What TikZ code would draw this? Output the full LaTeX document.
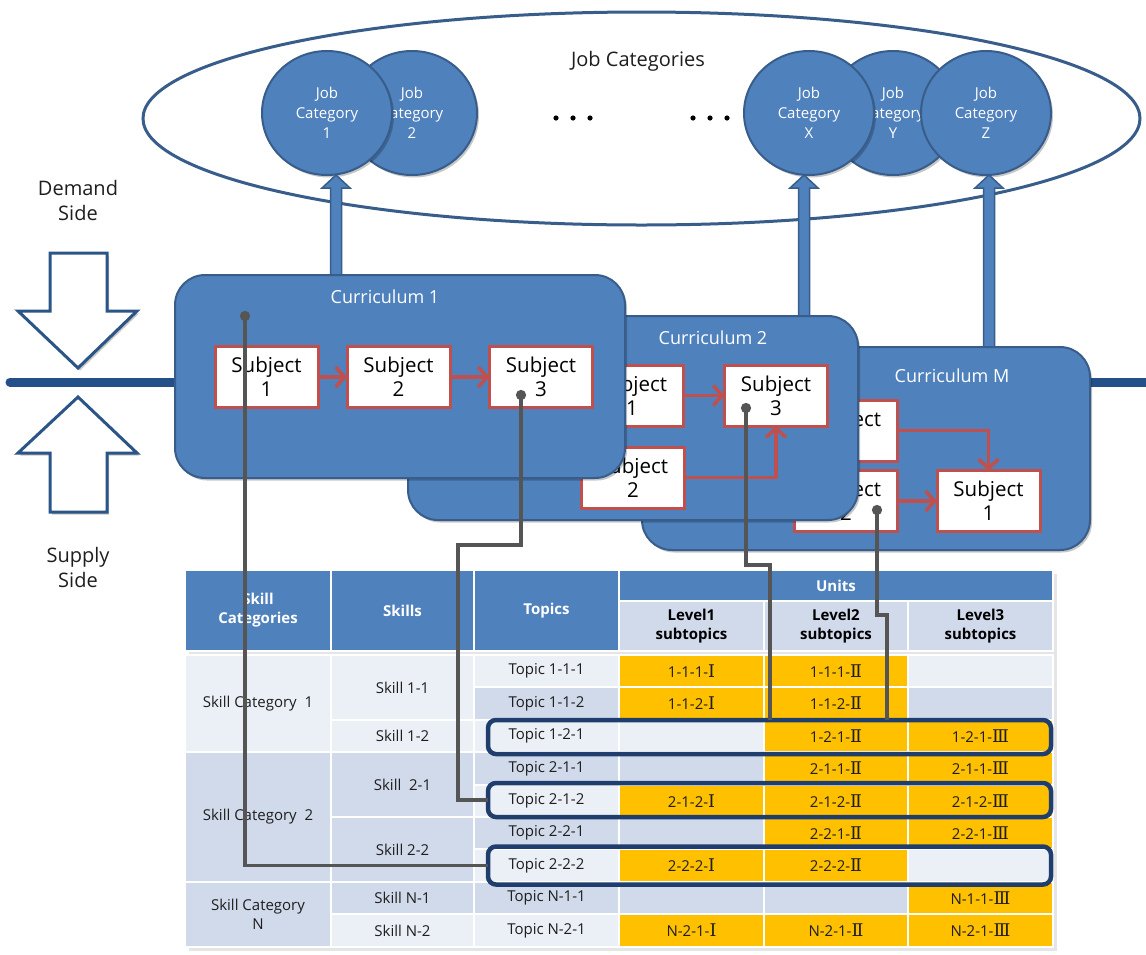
\documentclass[tikz,border=0pt]{standalone}
\usepackage{fontspec}
\setmainfont{Open Sans}
\newfontfamily\numeralfont{DejaVu Serif}
\usetikzlibrary{arrows.meta,shapes.geometric,shadows,calc}

\pgfdeclarelayer{bg}
\pgfdeclarelayer{mid}
\pgfsetlayers{bg,mid,main}

\definecolor{accent}{HTML}{4F81BD}
\definecolor{accentdark}{HTML}{385D8A}
\definecolor{spinecol}{HTML}{24508A}
\definecolor{hollowcol}{HTML}{2B5487}
\definecolor{subred}{HTML}{C0504D}
\definecolor{linkgray}{HTML}{555555}
\definecolor{navy}{HTML}{1F3E6D}
\definecolor{bandlight}{HTML}{EBEFF6}
\definecolor{banddark}{HTML}{D1DAEA}
\definecolor{unitorange}{HTML}{FFC000}
\definecolor{inktext}{HTML}{1E1E1E}

\newcommand{\fsz}[2]{\fontsize{#1}{#2}\selectfont}
\newcommand{\rI}{{\numeralfont\fontsize{17.5}{19}\selectfont Ⅰ}}
\newcommand{\rII}{{\numeralfont\fontsize{17.5}{19}\selectfont Ⅱ}}
\newcommand{\rIII}{{\numeralfont\fontsize{17.5}{19}\selectfont Ⅲ}}

% table cell with text: name, x left, x right, y top, y bottom, fill, text style, text
\newcommand{\tcell}[8]{%
  \path[fill=#6, draw=white, line width=1.5] (#2,#4) rectangle (#3,#5);
  \node[#7] (#1) at ({(#2+#3)/2},{(#4+#5)/2}) {#8};}
% empty table cell: x left, x right, y top, y bottom, fill
\newcommand{\ecell}[5]{%
  \path[fill=#5, draw=white, line width=1.5] (#1,#3) rectangle (#2,#4);}

% upward block arrow from #1 to its tip at #2 (same x)
\newcommand{\blockarrow}[2]{%
  \draw[blockarrow] let \p1=(#1), \p2=(#2) in
    (\x1-5.5pt,\y1-4pt) -- (\x1-5.5pt,\y2-13pt) -- (\x1-14pt,\y2-13pt) -- (\x1,\y2)
    -- (\x1+14pt,\y2-13pt) -- (\x1+5.5pt,\y2-13pt) -- (\x1+5.5pt,\y1-4pt) -- cycle;}

\begin{document}
\begin{tikzpicture}[x=1pt,y=-1pt,
  every node/.style={inner sep=0pt, outer sep=0pt},
  softshadow/.style={drop shadow={shadow xshift=2pt,shadow yshift=-2.5pt,opacity=0.22,fill=black}},
  hollow/.style={draw=hollowcol, line width=3, fill=white, line join=miter, softshadow},
  spine/.style={draw=spinecol, line width=9, line cap=round},
  outer/.style={ellipse, draw=accentdark, line width=3, fill=white, minimum width=997, minimum height=213},
  jobcat/.style={ellipse, draw=accentdark, line width=2, fill=accent, minimum width=130, minimum height=124,
    text=white, align=center, font=\fsz{15}{20}, softshadow},
  blockarrow/.style={draw=accentdark, line width=1.5, fill=accent, line join=miter},
  curbox/.style={rectangle, rounded corners=30, draw=accentdark, line width=2, fill=accent, softshadow},
  curtitle/.style={text=white, font=\fsz{18}{22}},
  subbox/.style={rectangle, draw=subred, line width=3, fill=white, minimum width=103, minimum height=61,
    align=center, text=black, font=\fsz{20.5}{24}},
  flow/.style={draw=subred, line width=3.5, -{Straight Barb[length=9pt,width=20pt]}},
  link/.style={draw=linkgray, line width=3.8, {Circle[length=10pt,width=10pt]}-},
  sidetext/.style={align=center, text=inktext, font=\fsz{20}{25}},
  titletext/.style={text=inktext, font=\fsz{20}{24}},
  celltext/.style={align=center, text=inktext, font=\fsz{15}{19}},
  headtext/.style={align=center, text=white, font=\fsz{15}{19}\bfseries},
  leveltext/.style={align=center, text=black, font=\fsz{15}{19}\bfseries},
  hilite/.style={rectangle, draw=navy, line width=4.5, rounded corners=8, minimum width=563},
]
\useasboundingbox (0,0) rectangle (1146,954);

\begin{pgfonlayer}{bg}
  % demand/supply axis
  \coordinate (spL) at (10,382);
  \coordinate (spR) at (1152,382);
  \draw[spine] (spL) -- (spR);

  % job categories
  \node[outer] (jobs) at (641.5,118.5) {};
  \node[titletext] (jobstitle) at (638,61) {Job Categories};
  \node[jobcat] (jc2) at (412,113) {Job\\Category\\2};
  \node[jobcat] (jc1) at (327,113) {Job\\Category\\1};
  \node[jobcat] (jcy) at (893,113) {Job\\Category\\Y};
  \node[jobcat] (jcx) at (809,113) {Job\\Category\\X};
  \node[jobcat] (jcz) at (986,113) {Job\\Category\\Z};
  \foreach \dx in {556,573,590,693,710,727} \fill (\dx,118) circle (2.6);
\end{pgfonlayer}

% demand and supply arrows
\draw[hollow] (50,253) -- (107,253) -- (107,311) -- (137,311) -- (78,368) -- (18,311) -- (50,311) -- cycle;
\draw[hollow] (78,397) -- (137,453) -- (107,453) -- (107,512) -- (50,512) -- (50,453) -- (18,453) -- cycle;
\node[sidetext] (demand) at (78,200) {Demand\\Side};
\node[sidetext] (supply) at (78,567) {Supply\\Side};

% curriculum M
\node[curbox, minimum width=448, minimum height=203] (curM) at (866,448.5) {};
\node[curtitle] (curMt) at (952,376) {Curriculum M};
\node[subbox] (mA) at (846,430.5) {Subject\\3};
\node[subbox] (mB) at (846,501) {Subject\\2};
\node[subbox] (mC) at (988.5,501) {Subject\\1};
\draw[flow] (mA.east) -| (mC.north);
\draw[flow] (mB.east) -- (mC.west);

% curriculum 2
\node[curbox, minimum width=450, minimum height=204] (cur2) at (633,418) {};
\node[curtitle] (cur2t) at (713,338) {Curriculum 2};
\node[subbox] (bA) at (632,395.5) {Subject\\1};
\node[subbox] (bB) at (633,477.5) {Subject\\2};
\node[subbox] (bC) at (776,395.5) {Subject\\3};
\draw[flow] (bA.east) -- (bC.west);
\draw[flow] (bB.east) -| (bC.south);

% curriculum 1
\node[curbox, minimum width=450, minimum height=203] (cur1) at (400,376.5) {};
\node[curtitle] (cur1t) at (385,297) {Curriculum 1};
\node[subbox] (aA) at (266.5,377) {Subject\\1};
\node[subbox] (aB) at (398.5,377) {Subject\\2};
\node[subbox] (aC) at (541,377) {Subject\\3};
\draw[flow] (aA.east) -- (aB.west);
\draw[flow] (aB.east) -- (aC.west);

% curricula feed job categories
\coordinate (ja1) at (336,0);
\coordinate (jax) at (804,0);
\coordinate (jaz) at (989,0);
\begin{pgfonlayer}{mid}
  \blockarrow{ja1 |- cur1.north}{ja1 |- jc1.south}
  \blockarrow{jax |- cur2.north}{jax |- jcx.south}
  \blockarrow{jaz |- curM.north}{jaz |- jcz.south}
\end{pgfonlayer}

% skills table
\fill[black, opacity=0.10] (189,574) rectangle (1057,951);
\tcell{hcat}{185}{331}{570}{651}{accent}{headtext}{Skill\\Categories}
\tcell{hskill}{331}{474}{570}{651}{accent}{headtext}{Skills}
\tcell{htopic}{474}{619}{570}{651}{accent}{headtext}{Topics}
\tcell{hunits}{619}{1053}{570}{601}{accent}{headtext}{Units}
\tcell{hlev1}{619}{764}{601}{651}{banddark}{leveltext}{Level1\\subtopics}
\tcell{hlev2}{764}{908}{601}{651}{banddark}{leveltext}{Level2\\subtopics}
\tcell{hlev3}{908}{1053}{601}{651}{banddark}{leveltext}{Level3\\subtopics}

\tcell{cat1}{185}{331}{655}{752}{bandlight}{celltext}{Skill Category\ \ 1}
\tcell{cat2}{185}{331}{752}{882}{banddark}{celltext}{Skill Category\ \ 2}
\tcell{catN}{185}{331}{882}{947}{banddark}{celltext}{Skill Category\\N}

\tcell{sk11}{331}{474}{655}{720}{bandlight}{celltext}{Skill 1-1}
\tcell{sk12}{331}{474}{720}{752}{bandlight}{celltext}{Skill 1-2}
\tcell{sk21}{331}{474}{752}{817}{banddark}{celltext}{Skill\ \ 2-1}
\tcell{sk22}{331}{474}{817}{882}{banddark}{celltext}{Skill 2-2}
\tcell{skN1}{331}{474}{882}{914}{banddark}{celltext}{Skill N-1}
\tcell{skN2}{331}{474}{914}{947}{bandlight}{celltext}{Skill N-2}

% row 1
\tcell{t111}{474}{619}{655}{687}{bandlight}{celltext}{Topic 1-1-1}
\tcell{u111a}{619}{764}{655}{687}{unitorange}{celltext}{1-1-1-\rI}
\tcell{u111b}{764}{908}{655}{687}{unitorange}{celltext}{1-1-1-\rII}
\ecell{908}{1053}{655}{687}{bandlight}
% row 2
\tcell{t112}{474}{619}{687}{720}{banddark}{celltext}{Topic 1-1-2}
\tcell{u112a}{619}{764}{687}{720}{unitorange}{celltext}{1-1-2-\rI}
\tcell{u112b}{764}{908}{687}{720}{unitorange}{celltext}{1-1-2-\rII}
\ecell{908}{1053}{687}{720}{banddark}
% row 3
\tcell{t121}{474}{619}{720}{752}{bandlight}{celltext}{Topic 1-2-1}
\ecell{619}{764}{720}{752}{bandlight}
\tcell{u121b}{764}{908}{720}{752}{unitorange}{celltext}{1-2-1-\rII}
\tcell{u121c}{908}{1053}{720}{752}{unitorange}{celltext}{1-2-1-\rIII}
% row 4
\tcell{t211}{474}{619}{752}{785}{banddark}{celltext}{Topic 2-1-1}
\ecell{619}{764}{752}{785}{banddark}
\tcell{u211b}{764}{908}{752}{785}{unitorange}{celltext}{2-1-1-\rII}
\tcell{u211c}{908}{1053}{752}{785}{unitorange}{celltext}{2-1-1-\rIII}
% row 5
\tcell{t212}{474}{619}{785}{817}{bandlight}{celltext}{Topic 2-1-2}
\tcell{u212a}{619}{764}{785}{817}{unitorange}{celltext}{2-1-2-\rI}
\tcell{u212b}{764}{908}{785}{817}{unitorange}{celltext}{2-1-2-\rII}
\tcell{u212c}{908}{1053}{785}{817}{unitorange}{celltext}{2-1-2-\rIII}
% row 6
\tcell{t221}{474}{619}{817}{849}{banddark}{celltext}{Topic 2-2-1}
\ecell{619}{764}{817}{849}{banddark}
\tcell{u221b}{764}{908}{817}{849}{unitorange}{celltext}{2-2-1-\rII}
\tcell{u221c}{908}{1053}{817}{849}{unitorange}{celltext}{2-2-1-\rIII}
% row 7
\tcell{t222}{474}{619}{849}{882}{bandlight}{celltext}{Topic 2-2-2}
\tcell{u222a}{619}{764}{849}{882}{unitorange}{celltext}{2-2-2-\rI}
\tcell{u222b}{764}{908}{849}{882}{unitorange}{celltext}{2-2-2-\rII}
\ecell{908}{1053}{849}{882}{bandlight}
% row 8
\tcell{tN11}{474}{619}{882}{914}{banddark}{celltext}{Topic N-1-1}
\ecell{619}{764}{882}{914}{banddark}
\ecell{764}{908}{882}{914}{banddark}
\tcell{uN11c}{908}{1053}{882}{914}{unitorange}{celltext}{N-1-1-\rIII}
% row 9
\tcell{tN21}{474}{619}{914}{947}{bandlight}{celltext}{Topic N-2-1}
\tcell{uN21a}{619}{764}{914}{947}{unitorange}{celltext}{N-2-1-\rI}
\tcell{uN21b}{764}{908}{914}{947}{unitorange}{celltext}{N-2-1-\rII}
\tcell{uN21c}{908}{1053}{914}{947}{unitorange}{celltext}{N-2-1-\rIII}

% selected topic rows
\node[hilite, minimum height=34] (hbox1) at (769.5,737) {};
\node[hilite, minimum height=34] (hbox2) at (769.5,800) {};
\node[hilite, minimum height=38] (hbox3) at (769.5,865.5) {};

% subjects mapped to topics
\coordinate (a0) at (245,311);
\coordinate (b0) at (521,390);
\coordinate (b1) at (521,545);
\coordinate (b2) at (458,545);
\coordinate (c0) at (746,403);
\coordinate (c1) at (770,565);
\coordinate (d0) at (877,505);
\coordinate (d1) at (887,615);
\draw[link] (a0) |- (hbox3.west);
\draw[link] (b0) -- (b1) -- (b2) |- (hbox2.west);
\draw[link] (c0) |- (c1) -- (c1 |- hbox1.north);
\draw[link] (d0) |- (d1) -- (d1 |- hbox1.north);
\end{tikzpicture}
\end{document}
